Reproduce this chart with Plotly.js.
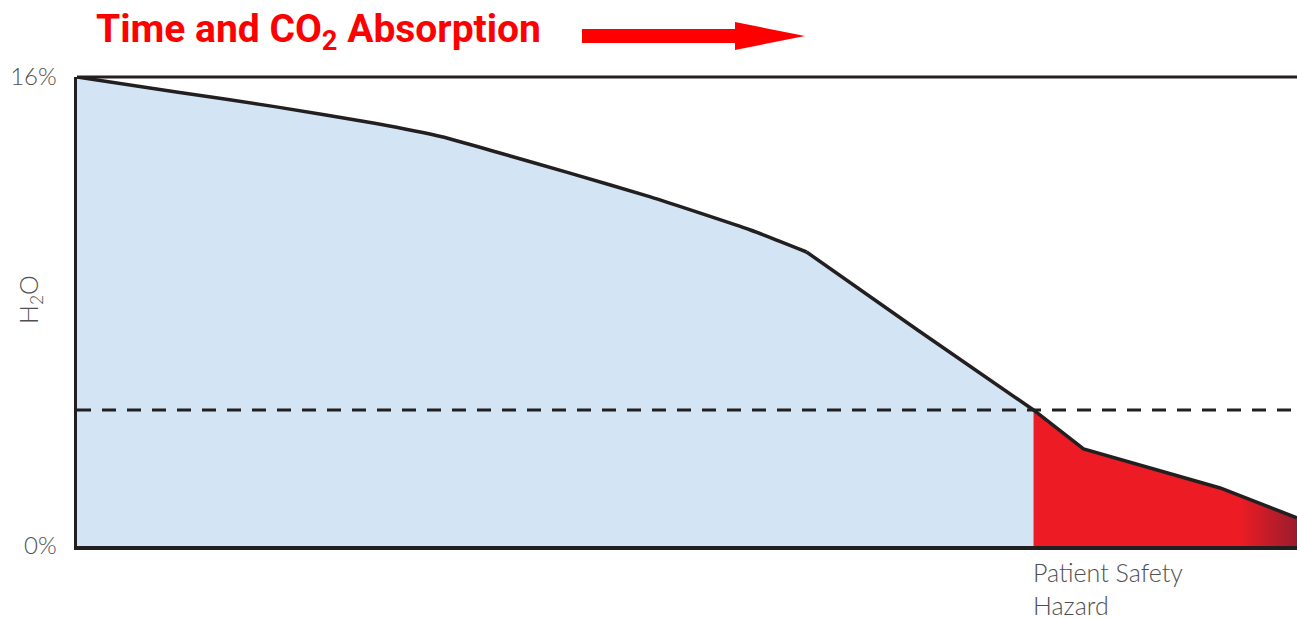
<!DOCTYPE html>
<html>
<head>
<meta charset="utf-8">
<script src="https://cdn.plot.ly/plotly-3.0.1.min.js"></script>
<style>html,body{margin:0;padding:0;background:#fff;}#chart{width:1297px;height:618px;}</style>
</head>
<body>
<div id="chart"></div>
<script>
// Time (arbitrary units, 0-100) and H2O content (%)
const timeSafe = [0, 8.0, 16.2, 24.4, 29.9, 34.3, 40.4, 47.0, 55.2, 59.8, 68.9, 78.4];
const h2oSafe  = [16, 15.50, 14.99, 14.42, 13.96, 13.45, 12.72, 11.91, 10.78, 10.03, 7.37, 4.64];
const timeHazard = [78.4, 82.5, 93.7, 100];
const h2oHazard  = [4.64, 3.31, 1.98, 0.96];
const threshold = 4.64;
const hazardStart = 78.4;
const yTickVals = [0, 16];
const yTickText = ['0%', '16%'];
const titleText = 'Time and CO<sub>2</sub> Absorption';
const yTitle = 'H<sub>2</sub>O';
const hazardLabel = 'Patient Safety<br>Hazard';

const lineColor = '#231f20';
const greyText = '#505050';
const kneeIdx = 9; // index in timeSafe where the curve bends sharply

const traces = [
  {x: timeSafe, y: h2oSafe, type: 'scatter', mode: 'lines', fill: 'tozeroy',
   fillcolor: '#d3e5f4', line: {width: 0, shape: 'spline', smoothing: 0.5}, hoverinfo: 'skip'},
  {x: timeHazard, y: h2oHazard, type: 'scatter', mode: 'lines', fill: 'tozeroy',
   fillgradient: {type: 'horizontal', colorscale: [[0, '#ed1c24'], [0.78, '#ed1c24'], [1, '#9b1c2e']]},
   line: {width: 0}, hoverinfo: 'skip'},
  {x: timeSafe.slice(0, kneeIdx + 1), y: h2oSafe.slice(0, kneeIdx + 1),
   type: 'scatter', mode: 'lines', line: {color: lineColor, width: 3.5, shape: 'spline', smoothing: 0.5}, hoverinfo: 'skip'},
  {x: timeSafe.slice(kneeIdx).concat(timeHazard.slice(1)), y: h2oSafe.slice(kneeIdx).concat(h2oHazard.slice(1)),
   type: 'scatter', mode: 'lines', line: {color: lineColor, width: 3.5}, hoverinfo: 'skip'}
];

const W = 1220, H = 469, L = 77, B = 546;
const px = v => (v - L) / W;
const py = v => (B - v) / H;

const layout = {
  width: 1297, height: 618,
  margin: {l: 77, r: 0, t: 77, b: 72},
  paper_bgcolor: '#fff', plot_bgcolor: 'rgba(0,0,0,0)',
  showlegend: false,
  font: {family: 'Lato, "Open Sans", sans-serif', color: greyText},
  xaxis: {range: [0, 100], showgrid: false, zeroline: false, showticklabels: false,
          showline: true, linecolor: lineColor, linewidth: 3.5, ticks: '', fixedrange: true},
  yaxis: {range: [0, 16], showgrid: false, zeroline: false, showline: true,
          linecolor: lineColor, linewidth: 3.5, tickvals: yTickVals, ticktext: yTickText,
          ticks: '', ticklabelstandoff: 12,
          tickfont: {size: 24, color: greyText, family: 'Lato, sans-serif', weight: 300}, fixedrange: true},
  shapes: [
    {type: 'line', xref: 'paper', yref: 'paper', x0: 0, x1: 1, y0: 1, y1: 1,
     line: {color: lineColor, width: 3}},
    {type: 'line', xref: 'paper', yref: 'y', x0: 0, x1: 1, y0: threshold, y1: threshold,
     line: {color: lineColor, width: 3, dash: '14px,11px'}},
    {type: 'rect', xref: 'paper', yref: 'paper', x0: px(582), x1: px(736), y0: py(43), y1: py(29),
     fillcolor: '#ff0000', line: {width: 0}},
    {type: 'path', xref: 'paper', yref: 'paper',
     path: `M ${px(735)} ${py(22)} L ${px(805)} ${py(36)} L ${px(735)} ${py(50)} Z`,
     fillcolor: '#ff0000', line: {width: 0}}
  ],
  annotations: [
    {text: titleText, xref: 'paper', yref: 'paper', x: px(94), y: py(32), xanchor: 'left', yanchor: 'middle',
     showarrow: false, font: {size: 39, color: '#ff0000', family: 'Roboto, sans-serif', weight: 700}},
    {text: yTitle, xref: 'paper', yref: 'paper', x: px(30), y: py(300), xanchor: 'center', yanchor: 'middle',
     textangle: -90, showarrow: false, font: {size: 25, color: greyText, family: 'Lato, sans-serif', weight: 300}},
    {text: hazardLabel, xref: 'x', yref: 'paper', x: hazardStart, y: py(555), xanchor: 'left', yanchor: 'top',
     align: 'left', showarrow: false, xshift: -2,
     font: {size: 25, color: greyText, family: 'Lato, sans-serif', weight: 300}}
  ]
};

Plotly.newPlot('chart', traces, layout, {displayModeBar: false, staticPlot: true});
</script>
</body>
</html>
